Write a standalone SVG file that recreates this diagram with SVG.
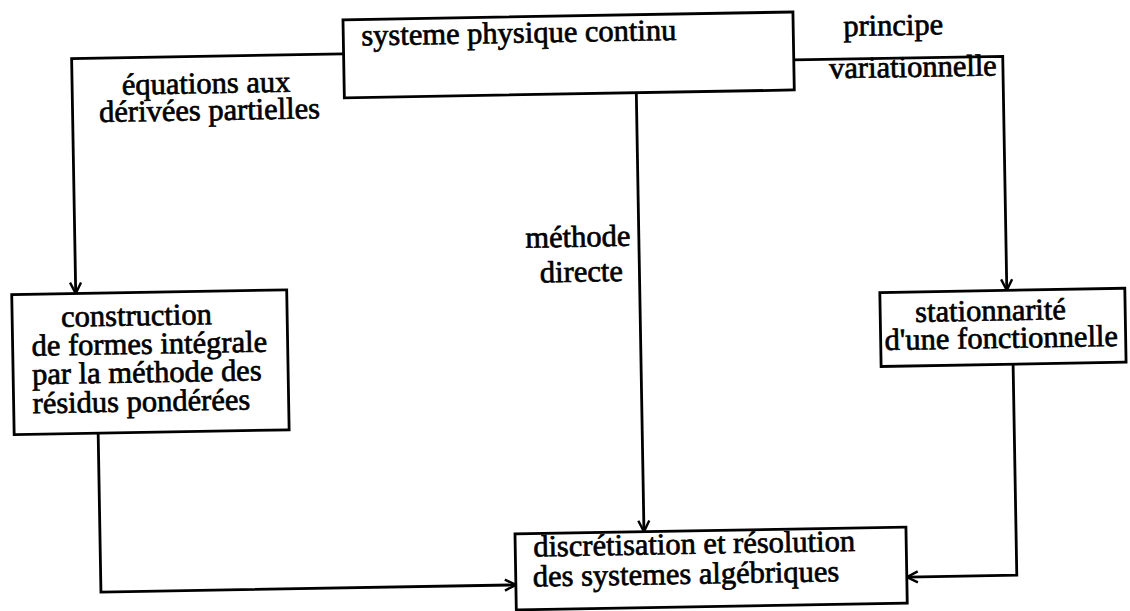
<svg xmlns="http://www.w3.org/2000/svg" width="1130" height="611" viewBox="0 0 1130 611">
<style>
.box{fill:#fff;stroke:#000;stroke-width:2.8}
.t{font-family:"Liberation Serif","Times New Roman","DejaVu Serif",serif;font-size:30.5px;fill:#000;stroke:#000;stroke-width:0.7}
.m{text-anchor:middle}
.c{fill:none;stroke:#000;stroke-width:2.8}
</style>
<defs>
<marker id="arr" viewBox="0 0 14 14" refX="13" refY="7" markerWidth="14" markerHeight="14" orient="auto" markerUnits="userSpaceOnUse">
<path d="M2,1.5 L13,7 L2,12.5" fill="none" stroke="#000" stroke-width="2.4"/>
</marker>
</defs>
<rect width="1130" height="611" fill="#fff"/>
<g transform="rotate(-1 565 305)">
<g id="connectors">
<path class="c" d="M348,50 H76 V285" marker-end="url(#arr)"/>
<path class="c" d="M798,64 H1007 V298" marker-end="url(#arr)"/>
<path class="c" d="M640,94 V533" marker-end="url(#arr)"/>
<path class="c" d="M96,425 V584 H511" marker-end="url(#arr)"/>
<path class="c" d="M1012,372 V583 H902" marker-end="url(#arr)"/>
<text class="t m" x="210" y="87">équations aux</text>
<text class="t m" x="213" y="114">dérivées partielles</text>
<text class="t m" x="898" y="41">principe</text>
<text class="t m" x="917" y="83">variationnelle</text>
<text class="t m" x="579" y="247">méthode</text>
<text class="t m" x="582" y="282">directe</text>
</g>
<g id="n-systeme">
<rect class="box" x="348" y="16" width="450" height="78"/>
<text class="t" x="366" y="42">systeme physique continu</text>
</g>
<g id="n-construction">
<rect class="box" x="12" y="285" width="275" height="140"/>
<text class="t" x="61" y="318">construction</text>
<text class="t" x="31" y="346.5">de formes intégrale</text>
<text class="t" x="31" y="375">par la méthode des</text>
<text class="t" x="31" y="404">résidus pondérées</text>
</g>
<g id="n-stationnarite">
<rect class="box" x="880" y="298" width="245" height="74"/>
<text class="t" x="915" y="328">stationnarité</text>
<text class="t" x="884" y="355.6">d'une fonctionnelle</text>
</g>
<g id="n-discretisation">
<rect class="box" x="511" y="533" width="391" height="76"/>
<text class="t" x="529" y="556">discrétisation et résolution</text>
<text class="t" x="528" y="586">des systemes algébriques</text>
</g>
</g>
</svg>
